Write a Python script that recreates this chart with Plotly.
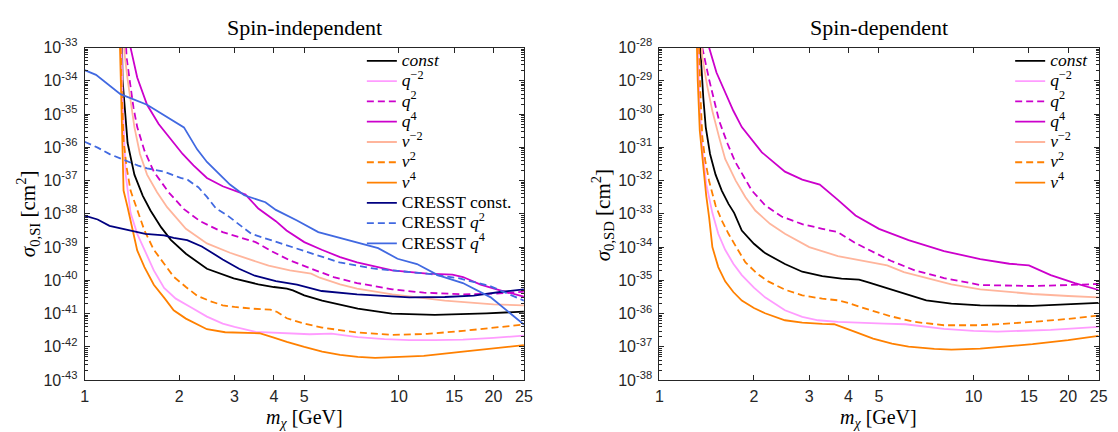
import plotly.graph_objects as go

# ---------------- data (mass in GeV, log10 of cross section in cm^2) ----------------
# Spin-independent panel
si_m_const = [1.31, 1.32, 1.37, 1.44, 1.53, 1.62, 1.75, 1.88, 2.1, 2.45, 2.98, 3.57, 4.0, 4.4, 4.6, 5.0, 5.7, 6.5, 7.4, 9.5, 13, 19, 25]
si_l_const = [-32, -33.96, -35.87, -36.82, -37.45, -37.9, -38.4, -38.78, -39.2, -39.65, -39.94, -40.12, -40.2, -40.25, -40.30, -40.45, -40.61, -40.74, -40.85, -41.0, -41.04, -40.99, -40.94]

si_m_qm2 = [1.30, 1.32, 1.35, 1.40, 1.47, 1.55, 1.66, 1.79, 1.95, 2.17, 2.45, 2.75, 3.0, 3.5, 4.4, 5.2, 6.1, 6.5, 7.4, 9, 10.8, 13, 16, 20, 25]
si_l_qm2 = [-31, -34.5, -36.8, -37.97, -38.6, -39.08, -39.7, -40.23, -40.55, -40.80, -41.09, -41.3, -41.40, -41.55, -41.60, -41.62, -41.60, -41.64, -41.71, -41.77, -41.80, -41.80, -41.78, -41.73, -41.66]

si_m_q2 = [1.34, 1.36, 1.39, 1.43, 1.47, 1.55, 1.66, 1.85, 2.07, 2.33, 2.75, 3.1, 3.5, 3.95, 4.5, 5.26, 6.2, 7.36, 9.53, 12, 16, 20, 25]
si_l_q2 = [-32, -33.3, -33.96, -34.8, -35.39, -36.1, -36.73, -37.35, -37.86, -38.22, -38.55, -38.70, -38.85, -39.13, -39.40, -39.65, -39.90, -40.08, -40.27, -40.37, -40.42, -40.40, -40.34]

si_m_q4 = [1.38, 1.40, 1.47, 1.58, 1.72, 1.88, 2.05, 2.22, 2.45, 2.75, 3.0, 3.25, 3.57, 4.06, 4.39, 5.0, 5.68, 6.5, 7.36, 9.53, 12.3, 14.8, 16, 18.2, 21, 25]
si_l_q4 = [-32, -33, -33.9, -34.72, -35.3, -35.77, -36.2, -36.54, -36.92, -37.17, -37.3, -37.42, -37.84, -38.22, -38.50, -38.85, -39.08, -39.30, -39.46, -39.70, -39.80, -39.83, -39.90, -40.13, -40.30, -40.49]

si_m_vm2 = [1.32, 1.34, 1.37, 1.44, 1.50, 1.58, 1.70, 1.83, 2.1, 2.45, 2.9, 3.4, 3.85, 4.5, 5.26, 5.6, 6.5, 7.36, 9.53, 14, 20, 25]
si_l_vm2 = [-32, -33.2, -33.96, -35.39, -36.2, -36.82, -37.35, -37.8, -38.45, -38.89, -39.17, -39.38, -39.56, -39.70, -39.80, -39.92, -40.12, -40.25, -40.42, -40.61, -40.72, -40.75]

si_m_v2 = [1.29, 1.31, 1.33, 1.36, 1.40, 1.47, 1.55, 1.66, 1.80, 1.92, 2.1, 2.28, 2.5, 2.75, 3.0, 3.4, 3.9, 4.1, 4.4, 5.0, 5.7, 6.5, 7.4, 9.5, 12.3, 16, 20, 25]
si_l_v2 = [-31, -34, -35.8, -36.6, -37.3, -37.85, -38.5, -39.08, -39.55, -39.89, -40.2, -40.46, -40.62, -40.75, -40.8, -40.85, -40.88, -40.95, -41.14, -41.30, -41.42, -41.50, -41.57, -41.64, -41.61, -41.52, -41.43, -41.33]

si_m_v4 = [1.28, 1.30, 1.31, 1.33, 1.37, 1.42, 1.47, 1.55, 1.66, 1.80, 1.92, 2.1, 2.45, 2.8, 3.2, 3.6, 4.0, 4.4, 5.0, 5.7, 6.5, 7.4, 8.4, 10, 12, 16, 20, 25]
si_l_v4 = [-31, -33.5, -35.5, -37.3, -37.8, -38.5, -39.1, -39.6, -40.13, -40.55, -40.9, -41.15, -41.47, -41.56, -41.58, -41.59, -41.72, -41.85, -42.0, -42.14, -42.24, -42.30, -42.33, -42.31, -42.27, -42.14, -42.05, -41.95]

cr_m_const = [1.0, 1.10, 1.2, 1.4, 1.56, 1.79, 1.92, 2.12, 2.36, 2.75, 3.1, 3.48, 4.06, 4.74, 5.68, 7.36, 10.8, 14, 17.3, 21, 25]
cr_l_const = [-38.05, -38.17, -38.36, -38.51, -38.60, -38.65, -38.72, -38.79, -38.98, -39.37, -39.65, -39.86, -40.02, -40.13, -40.32, -40.42, -40.51, -40.50, -40.46, -40.35, -40.27]

cr_m_q2 = [1.0, 1.10, 1.205, 1.48, 1.58, 1.79, 2.02, 2.13, 2.3, 2.45, 2.62, 2.83, 3.39, 4.39, 6.47, 8.37, 12.3, 15.6, 19.6, 25]
cr_l_q2 = [-35.83, -36.01, -36.21, -36.55, -36.63, -36.73, -36.92, -36.98, -37.2, -37.49, -37.84, -38.03, -38.60, -38.94, -39.46, -39.65, -39.80, -39.94, -40.18, -40.61]

cr_m_q4 = [1.0, 1.087, 1.30, 1.58, 2.07, 2.28, 2.45, 2.90, 3.22, 3.76, 4.06, 4.74, 5.54, 8.59, 9.9, 11.42, 13.3, 15.98, 19.6, 25]
cr_l_q4 = [-33.68, -33.82, -34.40, -34.72, -35.40, -36.06, -36.44, -37.12, -37.44, -37.65, -37.88, -38.20, -38.55, -39.03, -39.35, -39.51, -39.84, -40.08, -40.51, -41.33]

# Spin-dependent panel
sd_m_const = [1.33, 1.355, 1.38, 1.405, 1.45, 1.51, 1.58, 1.66, 1.73, 1.83, 2.0, 2.17, 2.51, 2.85, 3.3, 3.8, 4.32, 4.6, 5.45, 6.2, 7.07, 8.5, 10.5, 15.4, 20, 25]
sd_l_const = [-27, -28.48, -29.5, -30.39, -31.2, -31.82, -32.3, -32.7, -32.97, -33.5, -33.9, -34.18, -34.51, -34.74, -34.87, -34.95, -34.98, -35.05, -35.27, -35.45, -35.60, -35.70, -35.75, -35.77, -35.73, -35.68]

sd_m_qm2 = [1.32, 1.34, 1.37, 1.41, 1.475, 1.54, 1.62, 1.72, 1.83, 2.0, 2.17, 2.51, 2.85, 3.2, 3.7, 4.5, 5.2, 6.06, 6.5, 8.05, 10, 11.9, 17.6, 25]
sd_l_qm2 = [-27, -29.5, -31.0, -32.1, -32.97, -33.6, -34.08, -34.5, -34.84, -35.22, -35.51, -35.90, -36.10, -36.2, -36.25, -36.29, -36.30, -36.32, -36.36, -36.46, -36.52, -36.54, -36.49, -36.40]

sd_m_q2 = [1.35, 1.37, 1.44, 1.55, 1.65, 1.745, 1.97, 2.17, 2.45, 2.85, 3.3, 3.70, 4.21, 4.8, 5.45, 6.5, 8.05, 10.5, 15.4, 20, 25]
sd_l_q2 = [-27, -28, -28.96, -30.20, -30.9, -31.44, -32.30, -32.74, -33.08, -33.31, -33.45, -33.55, -33.88, -34.15, -34.41, -34.70, -34.93, -35.14, -35.17, -35.14, -35.11]

sd_m_q4 = [1.41, 1.44, 1.52, 1.62, 1.72, 1.83, 2.12, 2.51, 2.85, 3.24, 3.5, 3.70, 4.21, 5.0, 6.21, 8.05, 10.5, 13, 15.0, 17.6, 21, 25]
sd_l_q4 = [-27, -28, -28.75, -29.34, -29.9, -30.39, -31.15, -31.73, -31.97, -32.12, -32.38, -32.58, -33.05, -33.45, -33.79, -34.12, -34.36, -34.50, -34.55, -34.84, -35.08, -35.29]

sd_m_vm2 = [1.35, 1.37, 1.42, 1.475, 1.55, 1.62, 1.75, 1.88, 2.02, 2.25, 2.51, 3.0, 3.70, 4.5, 5.31, 6.0, 7.07, 8.5, 10.5, 15.4, 20, 25]
sd_l_vm2 = [-27, -28.29, -29.15, -29.91, -30.7, -31.35, -32.0, -32.5, -32.9, -33.3, -33.60, -34.0, -34.27, -34.42, -34.55, -34.75, -34.93, -35.12, -35.27, -35.41, -35.47, -35.51]

sd_m_v2 = [1.33, 1.35, 1.37, 1.40, 1.44, 1.51, 1.58, 1.66, 1.77, 1.88, 2.05, 2.22, 2.51, 2.85, 3.3, 3.70, 4.0, 4.32, 5.45, 6.5, 8.05, 10.5, 15.4, 20, 25]
sd_l_v2 = [-27, -29.3, -30.68, -31.4, -32.01, -32.75, -33.2, -33.60, -34.05, -34.46, -34.8, -35.03, -35.28, -35.45, -35.55, -35.60, -35.68, -35.79, -36.08, -36.25, -36.35, -36.35, -36.25, -36.16, -36.06]

sd_m_v4 = [1.31, 1.325, 1.345, 1.375, 1.41, 1.44, 1.475, 1.54, 1.62, 1.72, 1.83, 2.0, 2.17, 2.51, 2.85, 3.3, 3.6, 4.2, 4.79, 5.5, 6.21, 7.5, 8.5, 10.5, 15.4, 20, 25]
sd_l_v4 = [-27, -29, -30.5, -31.5, -32.45, -33.1, -34.0, -34.6, -35.03, -35.35, -35.61, -35.83, -35.99, -36.20, -36.27, -36.31, -36.32, -36.55, -36.75, -36.90, -36.99, -37.06, -37.08, -37.05, -36.92, -36.80, -36.67]

x_tick_vals = [1, 2, 3, 4, 5, 10, 15, 20, 25]
si_decades = list(range(-43, -32))
sd_decades = list(range(-38, -27))

# ---------------- styling ----------------
C_BLACK = "#000000"
C_PINK = "#FF9CFF"
C_MAG = "#CC00CC"
C_SALMON = "#FFB59C"
C_ORANGE = "#FF8000"
C_NAVY = "#000080"
C_BLUE = "#4169E1"
DASH = "7px,4px"
LW = 1.8

SERIF = "Liberation Serif"
SANS = "Liberation Sans"
AX = "#262626"

def lbl(s):
    return '<span style="font-size:17.5px">' + s + '</span>'

fig = go.Figure()

def add(m, l, name, color, dash, xa, ya, leg):
    fig.add_trace(go.Scatter(
        x=m, y=[10.0 ** v for v in l], mode="lines", name=lbl(name),
        line=dict(color=color, width=LW, dash=dash),
        xaxis=xa, yaxis=ya, legend=leg, showlegend=True))

add(si_m_const, si_l_const, "<i>const</i>", C_BLACK, "solid", "x", "y", "legend")
add(si_m_qm2, si_l_qm2, "<i>q</i><sup>−2</sup>", C_PINK, "solid", "x", "y", "legend")
add(si_m_q2, si_l_q2, "<i>q</i><sup>2</sup>", C_MAG, DASH, "x", "y", "legend")
add(si_m_q4, si_l_q4, "<i>q</i><sup>4</sup>", C_MAG, "solid", "x", "y", "legend")
add(si_m_vm2, si_l_vm2, "<i>v</i><sup>−2</sup>", C_SALMON, "solid", "x", "y", "legend")
add(si_m_v2, si_l_v2, "<i>v</i><sup>2</sup>", C_ORANGE, DASH, "x", "y", "legend")
add(si_m_v4, si_l_v4, "<i>v</i><sup>4</sup>", C_ORANGE, "solid", "x", "y", "legend")
add(cr_m_const, cr_l_const, "CRESST const.", C_NAVY, "solid", "x", "y", "legend")
add(cr_m_q2, cr_l_q2, "CRESST <i>q</i><sup>2</sup>", C_BLUE, DASH, "x", "y", "legend")
add(cr_m_q4, cr_l_q4, "CRESST <i>q</i><sup>4</sup>", C_BLUE, "solid", "x", "y", "legend")

add(sd_m_const, sd_l_const, "<i>const</i>", C_BLACK, "solid", "x2", "y2", "legend2")
add(sd_m_qm2, sd_l_qm2, "<i>q</i><sup>−2</sup>", C_PINK, "solid", "x2", "y2", "legend2")
add(sd_m_q2, sd_l_q2, "<i>q</i><sup>2</sup>", C_MAG, DASH, "x2", "y2", "legend2")
add(sd_m_q4, sd_l_q4, "<i>q</i><sup>4</sup>", C_MAG, "solid", "x2", "y2", "legend2")
add(sd_m_vm2, sd_l_vm2, "<i>v</i><sup>−2</sup>", C_SALMON, "solid", "x2", "y2", "legend2")
add(sd_m_v2, sd_l_v2, "<i>v</i><sup>2</sup>", C_ORANGE, DASH, "x2", "y2", "legend2")
add(sd_m_v4, sd_l_v4, "<i>v</i><sup>4</sup>", C_ORANGE, "solid", "x2", "y2", "legend2")

# page body has a default 8px margin: lay the figure out in page pixels minus that offset
OFF = 8
W, H = 1118 - OFF, 432 - OFF

def px(xp):
    return (xp - OFF) / W

def py(yp):
    return 1 - (yp - OFF) / H

TOP, BOT = 38, 387
ydom = [py(BOT), py(TOP)]
x1dom = [px(81.5), px(526)]
x2dom = [px(663), px(1107.5)]

def xaxis(dom, anchor):
    return dict(type="log", domain=dom, anchor=anchor, range=[0, 1.39794],
                tickmode="array", tickvals=x_tick_vals, ticktext=[str(v) for v in x_tick_vals],
                ticks="inside", ticklen=5, tickwidth=1, tickcolor=AX,
                showline=True, linecolor=AX, linewidth=1, mirror="ticks",
                showgrid=False, zeroline=False, ticklabelstandoff=2,
                tickfont=dict(family=SANS, size=16, color=AX))

def minor_vals(decs):
    out = []
    for d in decs[:-1]:
        for k in range(2, 10):
            out.append(k * 10.0 ** d)
    return out

def yaxis(dom, anchor, decs):
    return dict(type="log", domain=dom, anchor=anchor, range=[decs[0], decs[-1]],
                tickmode="array", tickvals=[10.0 ** d for d in decs],
                ticktext=["10<sup>%d</sup>" % d for d in decs],
                ticks="inside", ticklen=5, tickwidth=1, tickcolor=AX,
                minor=dict(ticks="inside", ticklen=3, tickwidth=1, tickcolor=AX,
                           tickmode="array", tickvals=minor_vals(decs), showgrid=False),
                showline=True, linecolor=AX, linewidth=1, mirror="ticks",
                showgrid=False, zeroline=False, ticklabelstandoff=3,
                tickfont=dict(family=SANS, size=16, color=AX))

fig.update_layout(
    width=W, height=H, margin=dict(l=0, r=0, t=0, b=0),
    paper_bgcolor="white", plot_bgcolor="white",
    xaxis=xaxis(x1dom, "y"), yaxis=yaxis(ydom, "x", si_decades),
    xaxis2=xaxis(x2dom, "y2"), yaxis2=yaxis(ydom, "x2", sd_decades),
    legend=dict(x=px(362), xanchor="left", y=py(36), yanchor="top",
                bgcolor="rgba(0,0,0,0)", borderwidth=0, tracegroupgap=0,
                font=dict(family=SERIF, size=13.3, color="black")),
    legend2=dict(x=px(1018), xanchor="left", y=py(36), yanchor="top",
                 bgcolor="rgba(0,0,0,0)", borderwidth=0, tracegroupgap=0,
                 font=dict(family=SERIF, size=13.3, color="black")),
    showlegend=True,
)

ann_font = dict(family=SERIF, size=22, color="black")
lab_font = dict(family=SERIF, size=20, color="black")
annotations = [
    dict(text="Spin-independent", x=(x1dom[0] + x1dom[1]) / 2, y=py(17), font=ann_font),
    dict(text="Spin-dependent", x=(x2dom[0] + x2dom[1]) / 2, y=py(17), font=ann_font),
    dict(text="<i>m</i><sub><i>χ</i></sub> [GeV]", x=(x1dom[0] + x1dom[1]) / 2, y=py(427), font=lab_font),
    dict(text="<i>m</i><sub><i>χ</i></sub> [GeV]", x=(x2dom[0] + x2dom[1]) / 2, y=py(427), font=lab_font),
    dict(text="<i>σ</i><sub>0,SI</sub> [cm<sup>2</sup>]", x=px(24), y=py(212), textangle=-90, font=dict(family=SERIF, size=21, color="black")),
    dict(text="<i>σ</i><sub>0,SD</sub> [cm<sup>2</sup>]", x=px(605), y=py(214), textangle=-90, font=dict(family=SERIF, size=21, color="black")),
]
for a in annotations:
    a.update(xref="paper", yref="paper", showarrow=False, xanchor="center", yanchor="middle")
fig.update_layout(annotations=annotations)

fig.write_html("out.html")
